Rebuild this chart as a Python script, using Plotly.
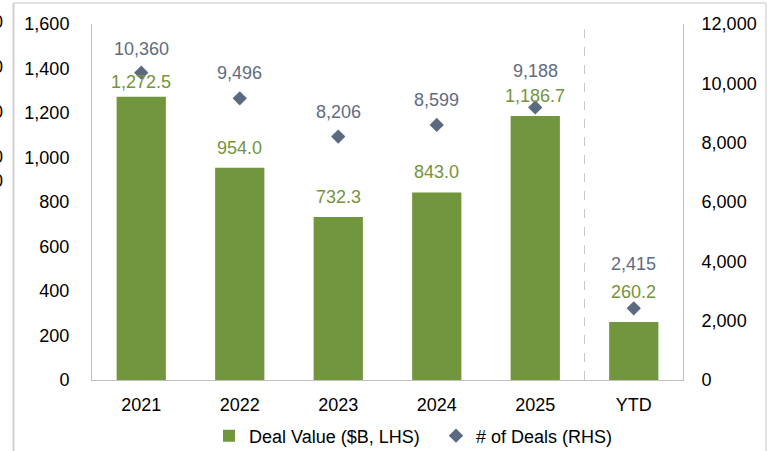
import plotly.graph_objects as go

categories = ["2021", "2022", "2023", "2024", "2025", "YTD"]
deal_value = [1272.5, 954.0, 732.3, 843.0, 1186.7, 260.2]
deal_count = [10360, 9496, 8206, 8599, 9188, 2415]
left_ticks = [0, 200, 400, 600, 800, 1000, 1200, 1400, 1600]
right_ticks = [0, 2000, 4000, 6000, 8000, 10000, 12000]

# label offsets (pixels above the mark)
value_label_shift = [15, 20, 20, 20, 20, 30]
count_label_shift = [24, 25, 25, 25, 36, 44]

FONT = "Liberation Sans, Arial, sans-serif"
BAR_COLOR = "#71963D"
VAL_TXT = "#76933C"
DIA_COLOR = "#5B6A80"
CNT_TXT = "#5F6C80"
AXIS_COLOR = "#BFBFBF"

fig = go.Figure()
fig.add_trace(go.Bar(x=categories, y=deal_value, name="Deal Value ($B, LHS)",
                     marker=dict(color=BAR_COLOR, line=dict(width=0)), width=0.5,
                     yaxis="y"))
fig.add_trace(go.Scatter(x=categories, y=deal_count, name="# of Deals (RHS)",
                         mode="markers", marker=dict(symbol="diamond", size=11, color=DIA_COLOR),
                         yaxis="y2"))

ann = []
for i, (v, s) in enumerate(zip(deal_value, value_label_shift)):
    ann.append(dict(x=i, y=v, xref="x", yref="y", text=f"{v:,.1f}", showarrow=False,
                    yanchor="middle", yshift=s, font=dict(family=FONT, size=18, color=VAL_TXT)))
for i, (v, s) in enumerate(zip(deal_count, count_label_shift)):
    ann.append(dict(x=i, y=v, xref="x", yref="y2", text=f"{v:,}", showarrow=False,
                    yanchor="middle", yshift=s, font=dict(family=FONT, size=18, color=CNT_TXT)))

# cut-off labels from neighbouring chart at far left
for yy in [22, 67, 112, 157, 181]:
    ann.append(dict(x=(5 - 92) / 591, y=(380 - yy) / 356, xref="paper", yref="paper",
                    text="0", showarrow=False, xanchor="right", yanchor="middle",
                    font=dict(family=FONT, size=18, color="#000000")))

shapes = [
    dict(type="line", xref="x", yref="paper", x0=4.5, x1=4.5, y0=0, y1=1,
         line=dict(color="#C8C8C8", width=1, dash="dash")),
    # outer frame
    dict(type="line", xref="paper", yref="paper", x0=(13.5 - 92) / 591, x1=(13.5 - 92) / 591,
         y0=(380 - 3) / 356, y1=(380 - 460) / 356, line=dict(color="#D0D0D0", width=2)),
    dict(type="line", xref="paper", yref="paper", x0=(13.5 - 92) / 591, x1=(766 - 92) / 591,
         y0=(380 - 3) / 356, y1=(380 - 3) / 356, line=dict(color="#D9D9D9", width=1.5)),
    dict(type="line", xref="paper", yref="paper", x0=(766 - 92) / 591, x1=(766 - 92) / 591,
         y0=(380 - 3) / 356, y1=(380 - 460) / 356, line=dict(color="#D9D9D9", width=1.5)),
]

fig.update_layout(
    width=774, height=451,
    margin=dict(l=92, r=91, t=24, b=71, autoexpand=False),
    paper_bgcolor="white", plot_bgcolor="white",
    font=dict(family=FONT, size=18, color="#000000"),
    showlegend=True,
    legend=dict(orientation="h", xref="container", yref="container",
                x=209 / 774, xanchor="left", y=(451 - 436) / 451, yanchor="middle",
                font=dict(family=FONT, size=18, color="#000000"), itemwidth=30,
                entrywidth=182, traceorder="normal", bgcolor="rgba(0,0,0,0)"),
    xaxis=dict(type="category", range=[-0.5, 5.5], showline=True, linecolor=AXIS_COLOR,
               linewidth=1, ticks="", showgrid=False, ticklabelstandoff=8,
               tickfont=dict(family=FONT, size=18, color="#000000")),
    yaxis=dict(range=[0, 1600], tickvals=left_ticks, tickformat=",", showline=True,
               linecolor=AXIS_COLOR, linewidth=1, showgrid=False, zeroline=False, ticks="",
               ticklabelstandoff=18, tickfont=dict(family=FONT, size=18, color="#000000")),
    yaxis2=dict(range=[0, 12000], tickvals=right_ticks, tickformat=",", overlaying="y",
                side="right", showline=True, linecolor=AXIS_COLOR, linewidth=1,
                showgrid=False, zeroline=False, ticks="", ticklabelstandoff=14,
                tickfont=dict(family=FONT, size=18, color="#000000")),
    annotations=ann,
    shapes=shapes,
)

fig.write_html("out.html", config={"displayModeBar": False},
               post_script="document.body.style.margin='0';document.body.style.overflow='hidden';")
